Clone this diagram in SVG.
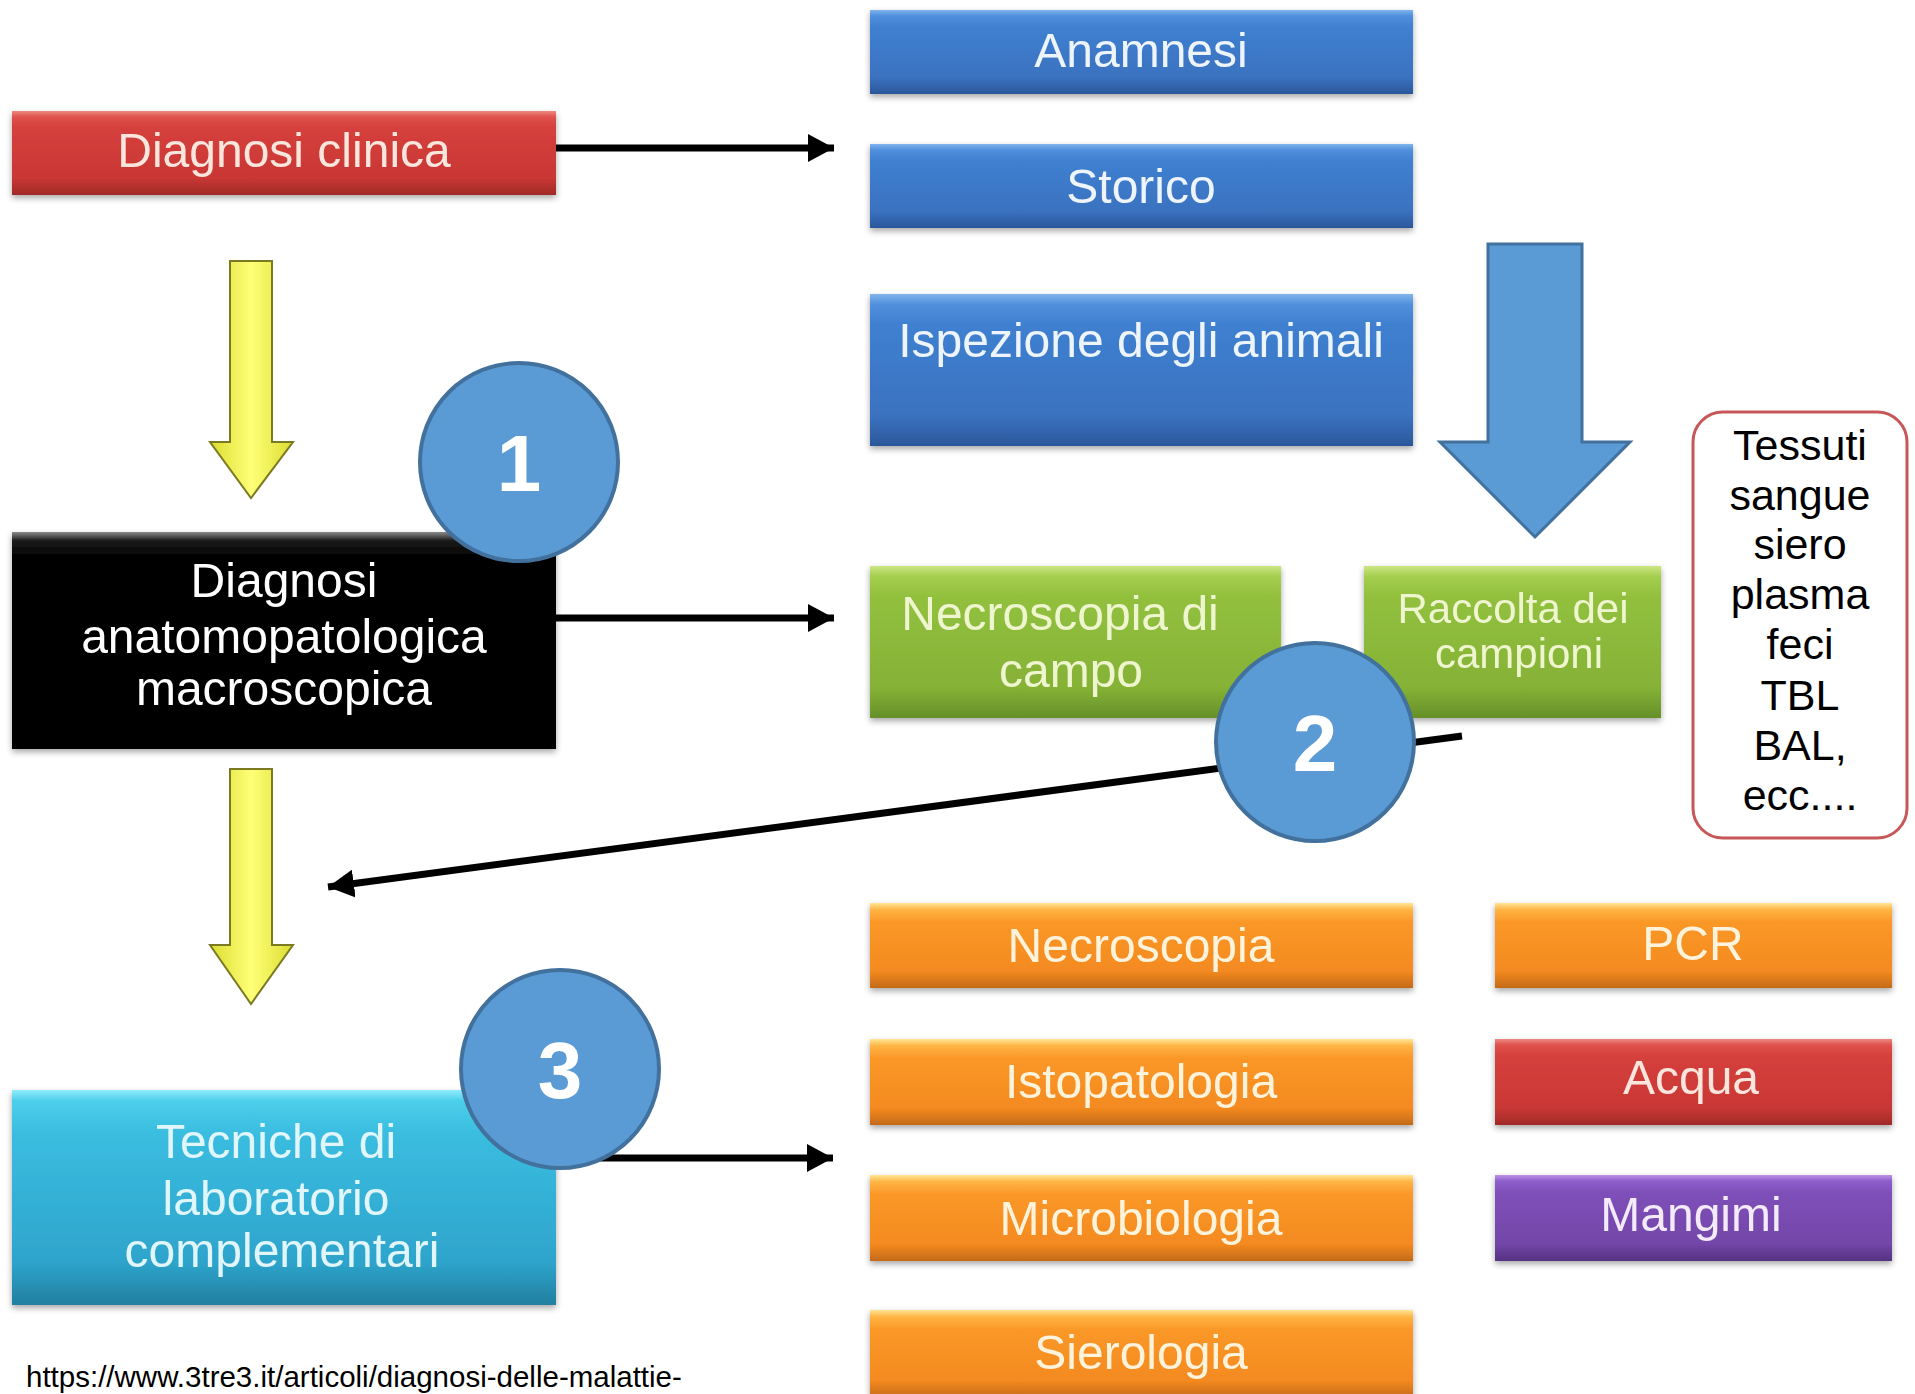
<svg xmlns="http://www.w3.org/2000/svg" width="1915" height="1394" viewBox="0 0 1915 1394">
<defs>
<style>
.t{font-family:"Liberation Sans",Arial,sans-serif;font-size:48px;text-anchor:middle}
.num{font-family:"Liberation Sans",Arial,sans-serif;font-size:80px;font-weight:bold;fill:#ffffff;text-anchor:middle}
.circ{fill:#5b9bd5;stroke:#41719c;stroke-width:4}
.conn{stroke:#000;stroke-width:7;fill:none;marker-end:url(#ah)}
.yarrow{fill:url(#gYel);stroke:#7a7a22;stroke-width:2}
.box{filter:url(#sh)}
</style>
<filter id="sh" x="-5%" y="-10%" width="110%" height="130%">
<feDropShadow dx="0" dy="3" stdDeviation="3" flood-color="#000" flood-opacity="0.35"/>
</filter>
<marker id="ah" markerUnits="userSpaceOnUse" markerWidth="28" markerHeight="28" refX="26" refY="14" orient="auto">
<path d="M0,0 L26,14 L0,28 Z" fill="#000"/>
</marker>
<linearGradient id="gRed" x1="0" y1="0" x2="0" y2="1">
<stop offset="0" stop-color="#ec8a82"/><stop offset="0.07" stop-color="#e0524d"/><stop offset="0.2" stop-color="#d5403c"/><stop offset="0.8" stop-color="#c93734"/><stop offset="1" stop-color="#a02a28"/>
</linearGradient>
<linearGradient id="gBlue" x1="0" y1="0" x2="0" y2="1">
<stop offset="0" stop-color="#80b4ec"/><stop offset="0.07" stop-color="#5090dc"/><stop offset="0.2" stop-color="#3f80d0"/><stop offset="0.8" stop-color="#3a72c0"/><stop offset="1" stop-color="#2b579a"/>
</linearGradient>
<linearGradient id="gGreen" x1="0" y1="0" x2="0" y2="1">
<stop offset="0" stop-color="#cce684"/><stop offset="0.07" stop-color="#a4ce4e"/><stop offset="0.2" stop-color="#92c03e"/><stop offset="0.8" stop-color="#85b236"/><stop offset="1" stop-color="#66902a"/>
</linearGradient>
<linearGradient id="gOrange" x1="0" y1="0" x2="0" y2="1">
<stop offset="0" stop-color="#ffe594"/><stop offset="0.08" stop-color="#ffb444"/><stop offset="0.22" stop-color="#fa9828"/><stop offset="0.8" stop-color="#f48a20"/><stop offset="1" stop-color="#c46a18"/>
</linearGradient>
<linearGradient id="gCyan" x1="0" y1="0" x2="0" y2="1">
<stop offset="0" stop-color="#90ecfc"/><stop offset="0.05" stop-color="#4ccfea"/><stop offset="0.2" stop-color="#3abde0"/><stop offset="0.8" stop-color="#2ea4cc"/><stop offset="1" stop-color="#217f9f"/>
</linearGradient>
<linearGradient id="gPurple" x1="0" y1="0" x2="0" y2="1">
<stop offset="0" stop-color="#bc94e6"/><stop offset="0.07" stop-color="#8e5ecb"/><stop offset="0.2" stop-color="#7f50b9"/><stop offset="0.8" stop-color="#7346a8"/><stop offset="1" stop-color="#553282"/>
</linearGradient>
<linearGradient id="gBlack" x1="0" y1="0" x2="0" y2="1">
<stop offset="0" stop-color="#8a8a8a"/><stop offset="0.04" stop-color="#1c1c1c"/><stop offset="0.12" stop-color="#000"/><stop offset="1" stop-color="#000"/>
</linearGradient>
<linearGradient id="gYel" x1="0" y1="0" x2="1" y2="0">
<stop offset="0" stop-color="#dcdc30"/><stop offset="0.5" stop-color="#ffff78"/><stop offset="1" stop-color="#dcdc30"/>
</linearGradient>
</defs>
<rect x="0" y="0" width="1915" height="1394" fill="#ffffff"/>

<g id="connectors">
<line class="conn" x1="556" y1="148" x2="834" y2="148"/>
<line class="conn" x1="556" y1="618" x2="834" y2="618"/>
<line class="conn" x1="556" y1="1158" x2="833" y2="1158"/>
<line class="conn" x1="1462" y1="736" x2="328" y2="887"/>
<polygon class="yarrow" points="230,261 272,261 272,442 293,442 251,498 210,442 230,442"/>
<polygon class="yarrow" points="230,769 272,769 272,945 293,945 251,1004 210,945 230,945"/>
<polygon points="1488,244 1582,244 1582,442 1630,442 1535,537 1440,442 1488,442" fill="#5b9bd5" stroke="#41719c" stroke-width="3"/>
</g>

<g id="diagnosi-clinica" class="box">
<rect x="12" y="111" width="544" height="84" fill="url(#gRed)"/>
<text class="t" x="284" y="167" fill="#fbe6de">Diagnosi clinica</text>
</g>
<g id="anamnesi" class="box">
<rect x="870" y="10" width="543" height="84" fill="url(#gBlue)"/>
<text class="t" x="1141" y="67" fill="#eef4fb">Anamnesi</text>
</g>
<g id="storico" class="box">
<rect x="870" y="144" width="543" height="84" fill="url(#gBlue)"/>
<text class="t" x="1141" y="203" fill="#eef4fb">Storico</text>
</g>
<g id="ispezione" class="box">
<rect x="870" y="294" width="543" height="152" fill="url(#gBlue)"/>
<text class="t" x="1141" y="357" fill="#eef4fb">Ispezione degli animali</text>
</g>
<g id="diagnosi-anatomopatologica" class="box">
<rect x="12" y="532" width="544" height="217" fill="url(#gBlack)"/>
<text class="t" x="284" y="597" fill="#ffffff">Diagnosi</text>
<text class="t" x="284" y="653" fill="#ffffff">anatomopatologica</text>
<text class="t" x="284" y="705" fill="#ffffff">macroscopica</text>
</g>
<g id="necroscopia-campo" class="box">
<rect x="870" y="566" width="411" height="152" fill="url(#gGreen)"/>
<text class="t" x="1060" y="630" fill="#eef5cf">Necroscopia di</text>
<text class="t" x="1071" y="687" fill="#eef5cf">campo</text>
</g>
<g id="raccolta" class="box">
<rect x="1364" y="566" width="297" height="152" fill="url(#gGreen)"/>
<text class="t" x="1513" y="623" fill="#eef5cf" style="font-size:42px">Raccolta dei</text>
<text class="t" x="1519" y="668" fill="#eef5cf" style="font-size:42px">campioni</text>
</g>
<g id="tessuti">
<rect x="1693" y="412" width="214" height="426" rx="30" ry="30" fill="#ffffff" stroke="#c8575a" stroke-width="3"/>
<text class="t" x="1800" y="460" fill="#000" style="font-size:43px">Tessuti</text>
<text class="t" x="1800" y="510" fill="#000" style="font-size:43px">sangue</text>
<text class="t" x="1800" y="559" fill="#000" style="font-size:43px">siero</text>
<text class="t" x="1800" y="609" fill="#000" style="font-size:43px">plasma</text>
<text class="t" x="1800" y="659" fill="#000" style="font-size:43px">feci</text>
<text class="t" x="1800" y="710" fill="#000" style="font-size:43px">TBL</text>
<text class="t" x="1800" y="760" fill="#000" style="font-size:43px">BAL,</text>
<text class="t" x="1800" y="810" fill="#000" style="font-size:43px">ecc....</text>
</g>
<g id="tecniche" class="box">
<rect x="12" y="1090" width="544" height="215" fill="url(#gCyan)"/>
<text class="t" x="276" y="1158" fill="#e0f6fb">Tecniche di</text>
<text class="t" x="276" y="1215" fill="#e0f6fb">laboratorio</text>
<text class="t" x="282" y="1267" fill="#e0f6fb">complementari</text>
</g>
<g id="necroscopia" class="box">
<rect x="870" y="903" width="543" height="85" fill="url(#gOrange)"/>
<text class="t" x="1141" y="962" fill="#fff3dc">Necroscopia</text>
</g>
<g id="istopatologia" class="box">
<rect x="870" y="1039" width="543" height="86" fill="url(#gOrange)"/>
<text class="t" x="1141" y="1098" fill="#fff3dc">Istopatologia</text>
</g>
<g id="microbiologia" class="box">
<rect x="870" y="1175" width="543" height="86" fill="url(#gOrange)"/>
<text class="t" x="1141" y="1235" fill="#fff3dc">Microbiologia</text>
</g>
<g id="sierologia" class="box">
<rect x="870" y="1310" width="543" height="88" fill="url(#gOrange)"/>
<text class="t" x="1141" y="1369" fill="#fff3dc">Sierologia</text>
</g>
<g id="pcr" class="box">
<rect x="1495" y="903" width="397" height="85" fill="url(#gOrange)"/>
<text class="t" x="1693" y="960" fill="#fff3dc">PCR</text>
</g>
<g id="acqua" class="box">
<rect x="1495" y="1039" width="397" height="86" fill="url(#gRed)"/>
<text class="t" x="1691" y="1094" fill="#fbe6de">Acqua</text>
</g>
<g id="mangimi" class="box">
<rect x="1495" y="1175" width="397" height="86" fill="url(#gPurple)"/>
<text class="t" x="1691" y="1231" fill="#f3eafb">Mangimi</text>
</g>

<g id="badge-1">
<circle class="circ" cx="519" cy="462" r="99"/>
<text class="num" x="519" y="491">1</text>
</g>
<g id="badge-2">
<circle class="circ" cx="1315" cy="742" r="99"/>
<text class="num" x="1315" y="771">2</text>
</g>
<g id="badge-3">
<circle class="circ" cx="560" cy="1069" r="99"/>
<text class="num" x="560" y="1098">3</text>
</g>

<text x="26" y="1387" style="font-family:'Liberation Sans',Arial,sans-serif;font-size:29.5px" fill="#000">https://www.3tre3.it/articoli/diagnosi-delle-malattie-</text>
</svg>
